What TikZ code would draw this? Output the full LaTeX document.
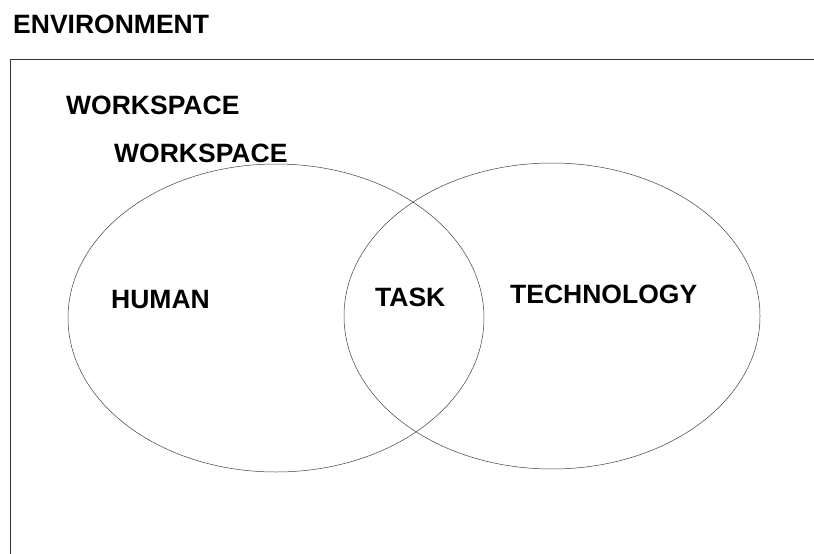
\documentclass[tikz,border=0pt]{standalone}
\usepackage{fontspec}
\setmainfont{Liberation Sans}
\begin{document}
\begin{tikzpicture}[x=1pt,y=-1pt,
  caption/.style={font=\fontsize{26.5}{30}\selectfont\bfseries,text=black,inner sep=0pt,anchor=base west}]
\useasboundingbox (0,0) rectangle (814,554);
\clip (0,0) rectangle (814,554);
% draw the environment frame
\draw[black!80,line width=1pt] (10,59) rectangle (840,580);
% draw the two ellipses
\draw[black!75,line width=0.5pt] (276,318) ellipse [x radius=208, y radius=154];
\draw[black!75,line width=0.5pt] (552,316) ellipse [x radius=208, y radius=153];
% add the labels
\node[caption] (env) at (13,34) {ENVIRONMENT};
\node[caption] (ws1) at (66,114) {WORKSPACE};
\node[caption] (ws2) at (114,162) {WORKSPACE};
\node[caption] (human) at (111,308) {HUMAN};
\node[caption] (task) at (375,306) {TASK};
\node[caption] (tech) at (510,303) {TECHNOLOGY};
\end{tikzpicture}
\end{document}
